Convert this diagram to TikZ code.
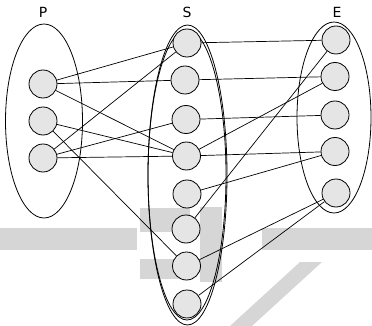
\documentclass[tikz,border=0pt]{standalone}
\usepackage{fontspec}
\setmainfont{DejaVu Sans}
\begin{document}
\begin{tikzpicture}[x=1pt,y=-1pt,
  member/.style={circle,draw=black,fill=gray!20,line width=0.8pt,minimum size=28pt,inner sep=0pt},
  group/.style={draw=black,line width=0.8pt},
  link/.style={draw=black,line width=0.7pt},
  wm/.style={fill=black!16,draw=none},
  setlabel/.style={font=\fontsize{14}{14}\selectfont,inner sep=0pt}]
\useasboundingbox (0,0) rectangle (372,326);

% faint background lettering
\fill[wm] (0,228) rectangle (137,250);
\fill[wm] (140,208) rectangle (190,232);
\fill[wm] (140,259) rectangle (187,279);
\fill[wm] (200,207) rectangle (222,282);
\fill[wm] (262,228) rectangle (372,250);
\fill[wm] (230,326) -- (300,262) -- (322,262) -- (252,326) -- cycle;

% group outlines
\draw[group] (44,121) ellipse [x radius=38.5, y radius=97];
\draw[group] (187.5,175) ellipse [x radius=39.5, y radius=150];
\draw[group] (187,175) ellipse [x radius=39, y radius=145];
\draw[group] (334,117.5) ellipse [x radius=37, y radius=95.5];

% set names
\node[setlabel] (lp) at (43,12) {P};
\node[setlabel] (ls) at (187,12) {S};
\node[setlabel] (le) at (337,12) {E};

% P members
\node[member] (p1) at (43,84) {};
\node[member] (p2) at (43,121) {};
\node[member] (p3) at (43,158) {};

% S members
\node[member] (s1) at (187,43) {};
\node[member] (s2) at (185,80) {};
\node[member] (s3) at (186,119.5) {};
\node[member] (s4) at (186.5,156) {};
\node[member] (s5) at (187,194) {};
\node[member] (s6) at (186,229) {};
\node[member] (s7) at (186.5,266) {};
\node[member] (s8) at (187,304) {};

% E members
\node[member] (e1) at (336,40) {};
\node[member] (e2) at (335,76.5) {};
\node[member] (e3) at (335,115) {};
\node[member] (e4) at (335,151.5) {};
\node[member] (e5) at (336,193) {};

% P to S
\draw[link] (p1) -- (s1);
\draw[link] (p1) -- (s2);
\draw[link] (p1) -- (s4);
\draw[link] (p2) -- (s4);
\draw[link] (p2) -- (s7);
\draw[link] (p3) -- (s1);
\draw[link] (p3) -- (s3);
\draw[link] (p3) -- (s4);

% S to E
\draw[link] (s1) -- (e1);
\draw[link] (s2) -- (e2);
\draw[link] (s3) -- (e3);
\draw[link] (s4) -- (e2);
\draw[link] (s4) -- (e4);
\draw[link] (s5) -- (e4);
\draw[link] (s6) -- (e1);
\draw[link] (s7) -- (e5);
\draw[link] (s8) -- (e5);
\end{tikzpicture}
\end{document}
